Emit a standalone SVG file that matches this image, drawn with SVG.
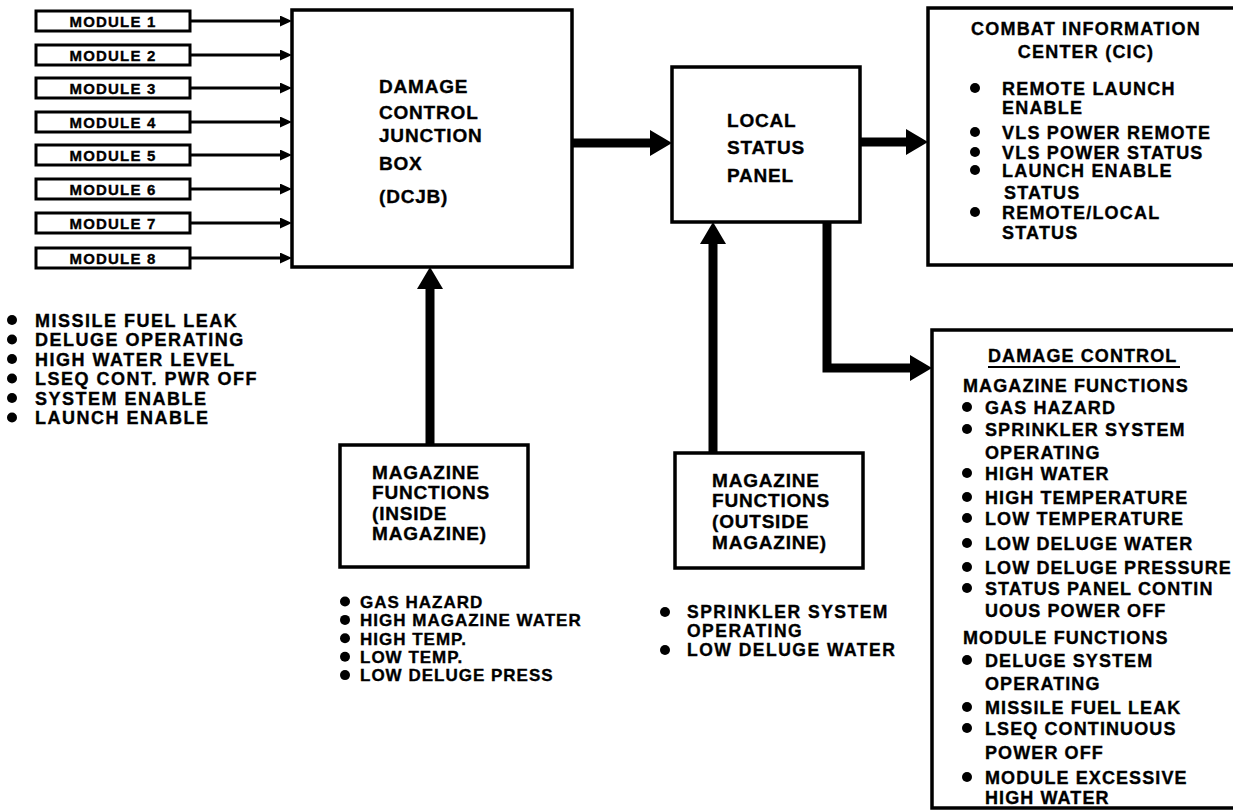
<svg xmlns="http://www.w3.org/2000/svg" width="1233" height="812" viewBox="0 0 1233 812">
<style>
  .box { fill: #fff; stroke: #000; stroke-width: 3.5; }
  .mbox { fill: #fff; stroke: #000; stroke-width: 3; }
  text { font-family: "Liberation Sans", Arial, sans-serif; font-weight: bold; fill: #000; stroke: #000; stroke-width: 0.35; }
  .mod { font-size: 15px; letter-spacing: 1.2px; text-anchor: middle; }
  .big { font-size: 19px; letter-spacing: 0.8px; }
  .lft { font-size: 18px; letter-spacing: 1.5px; }
  .ins { font-size: 17px; letter-spacing: 1px; }
  .out { font-size: 17.5px; letter-spacing: 1.5px; }
  .cic { font-size: 18px; letter-spacing: 1.2px; }
  .dc { font-size: 18px; letter-spacing: 1.1px; }
  .thin { fill: none; stroke: #000; stroke-width: 3; marker-end: url(#sa); }
  .thick { fill: none; stroke: #000; stroke-width: 9; stroke-linejoin: miter; marker-end: url(#ba); }
  .dot { fill: #000; }
</style>
<defs>
  <marker id="sa" markerUnits="userSpaceOnUse" viewBox="0 0 12 11" markerWidth="12" markerHeight="11" refX="1" refY="5.5" orient="auto">
    <path d="M0,0 L12,5.5 L0,11 z" fill="#000"/>
  </marker>
  <marker id="ba" markerUnits="userSpaceOnUse" viewBox="0 0 22 26" markerWidth="22" markerHeight="26" refX="2" refY="13" orient="auto">
    <path d="M0,0 L22,13 L0,26 z" fill="#000"/>
  </marker>
</defs>
<rect width="1233" height="812" fill="#fff"/>

<g id="connectors">
  <line class="thin" x1="190" y1="21" x2="281" y2="21"/>
  <line class="thin" x1="190" y1="55" x2="281" y2="55"/>
  <line class="thin" x1="190" y1="88" x2="281" y2="88"/>
  <line class="thin" x1="190" y1="122" x2="281" y2="122"/>
  <line class="thin" x1="190" y1="155" x2="281" y2="155"/>
  <line class="thin" x1="190" y1="189" x2="281" y2="189"/>
  <line class="thin" x1="190" y1="223" x2="281" y2="223"/>
  <line class="thin" x1="190" y1="258" x2="281" y2="258"/>
  <path class="thick" d="M572,143 H652"/>
  <path class="thick" d="M860,142 H908"/>
  <path class="thick" d="M827,222 V368 H912"/>
  <path class="thick" d="M430,445 V287"/>
  <path class="thick" d="M713,453 V242"/>
</g>

<g id="module1"><rect class="mbox" x="36" y="11" width="154" height="20"/><text class="mod" x="113" y="26.5">MODULE 1</text></g>
<g id="module2"><rect class="mbox" x="36" y="45" width="154" height="20"/><text class="mod" x="113" y="60.5">MODULE 2</text></g>
<g id="module3"><rect class="mbox" x="36" y="78" width="154" height="20"/><text class="mod" x="113" y="93.5">MODULE 3</text></g>
<g id="module4"><rect class="mbox" x="36" y="112" width="154" height="20"/><text class="mod" x="113" y="127.5">MODULE 4</text></g>
<g id="module5"><rect class="mbox" x="36" y="145" width="154" height="20"/><text class="mod" x="113" y="160.5">MODULE 5</text></g>
<g id="module6"><rect class="mbox" x="36" y="179" width="154" height="20"/><text class="mod" x="113" y="194.5">MODULE 6</text></g>
<g id="module7"><rect class="mbox" x="36" y="213" width="154" height="20"/><text class="mod" x="113" y="228.5">MODULE 7</text></g>
<g id="module8"><rect class="mbox" x="36" y="248" width="154" height="20"/><text class="mod" x="113" y="263.5">MODULE 8</text></g>

<g id="module-signals">
  <circle class="dot" cx="12" cy="320" r="5"/><text class="lft" x="35" y="326.5">MISSILE FUEL LEAK</text>
  <circle class="dot" cx="12" cy="339.5" r="5"/><text class="lft" x="35" y="346">DELUGE OPERATING</text>
  <circle class="dot" cx="12" cy="359" r="5"/><text class="lft" x="35" y="365.5">HIGH WATER LEVEL</text>
  <circle class="dot" cx="12" cy="378.5" r="5"/><text class="lft" x="35" y="385">LSEQ CONT. PWR OFF</text>
  <circle class="dot" cx="12" cy="398" r="5"/><text class="lft" x="35" y="404.5">SYSTEM ENABLE</text>
  <circle class="dot" cx="12" cy="417.5" r="5"/><text class="lft" x="35" y="424">LAUNCH ENABLE</text>
</g>

<g id="dcjb">
  <rect class="box" x="292" y="10" width="280" height="257"/>
  <text class="big" x="379" y="93">DAMAGE</text>
  <text class="big" x="379" y="119">CONTROL</text>
  <text class="big" x="379" y="142">JUNCTION</text>
  <text class="big" x="379" y="170">BOX</text>
  <text class="big" x="379" y="203">(DCJB)</text>
</g>

<g id="local-status-panel">
  <rect class="box" x="672" y="67" width="188" height="155"/>
  <text class="big" x="727" y="127">LOCAL</text>
  <text class="big" x="727" y="154">STATUS</text>
  <text class="big" x="727" y="182">PANEL</text>
</g>

<g id="cic">
  <rect class="box" x="928" y="8" width="330" height="257"/>
  <text class="cic" x="1086" y="35" text-anchor="middle">COMBAT INFORMATION</text>
  <text class="cic" x="1086" y="58" text-anchor="middle">CENTER (CIC)</text>
  <circle class="dot" cx="975" cy="88" r="5"/><text class="cic" x="1002" y="94.5">REMOTE LAUNCH</text>
  <text class="cic" x="1002" y="113.5">ENABLE</text>
  <circle class="dot" cx="975" cy="132" r="5"/><text class="cic" x="1002" y="138.5">VLS POWER REMOTE</text>
  <circle class="dot" cx="975" cy="152" r="5"/><text class="cic" x="1002" y="158.5">VLS POWER STATUS</text>
  <circle class="dot" cx="975" cy="170" r="5"/><text class="cic" x="1002" y="176.5">LAUNCH ENABLE</text>
  <text class="cic" x="1004" y="198.5">STATUS</text>
  <circle class="dot" cx="975" cy="212" r="5"/><text class="cic" x="1002" y="218.5">REMOTE/LOCAL</text>
  <text class="cic" x="1002" y="238.5">STATUS</text>
</g>

<g id="damage-control">
  <rect class="box" x="932" y="330" width="330" height="478"/>
  <text class="dc" x="988" y="361.5">DAMAGE CONTROL</text>
  <line x1="988" y1="367" x2="1180" y2="367" stroke="#000" stroke-width="2"/>
  <text class="dc" x="963" y="391.5">MAGAZINE FUNCTIONS</text>
  <circle class="dot" cx="967" cy="407" r="5"/><text class="dc" x="985" y="413.5">GAS HAZARD</text>
  <circle class="dot" cx="967" cy="429" r="5"/><text class="dc" x="985" y="435.5">SPRINKLER SYSTEM</text>
  <text class="dc" x="985" y="458.5">OPERATING</text>
  <circle class="dot" cx="967" cy="473" r="5"/><text class="dc" x="985" y="479.5">HIGH WATER</text>
  <circle class="dot" cx="967" cy="497" r="5"/><text class="dc" x="985" y="503.5">HIGH TEMPERATURE</text>
  <circle class="dot" cx="967" cy="518" r="5"/><text class="dc" x="985" y="524.5">LOW TEMPERATURE</text>
  <circle class="dot" cx="967" cy="543" r="5"/><text class="dc" x="985" y="549.5">LOW DELUGE WATER</text>
  <circle class="dot" cx="967" cy="567" r="5"/><text class="dc" x="985" y="573.5">LOW DELUGE PRESSURE</text>
  <circle class="dot" cx="967" cy="588" r="5"/><text class="dc" x="985" y="594.5">STATUS PANEL CONTIN</text>
  <text class="dc" x="985" y="616.5">UOUS POWER OFF</text>
  <text class="dc" x="963" y="643.5">MODULE FUNCTIONS</text>
  <circle class="dot" cx="967" cy="660" r="5"/><text class="dc" x="985" y="666.5">DELUGE SYSTEM</text>
  <text class="dc" x="985" y="689.5">OPERATING</text>
  <circle class="dot" cx="967" cy="707" r="5"/><text class="dc" x="985" y="713.5">MISSILE FUEL LEAK</text>
  <circle class="dot" cx="967" cy="728" r="5"/><text class="dc" x="985" y="734.5">LSEQ CONTINUOUS</text>
  <text class="dc" x="985" y="758.5">POWER OFF</text>
  <circle class="dot" cx="967" cy="777" r="5"/><text class="dc" x="985" y="783.5">MODULE EXCESSIVE</text>
  <text class="dc" x="985" y="803.5">HIGH WATER</text>
</g>

<g id="inside-magazine">
  <rect class="box" x="340" y="445" width="188" height="122"/>
  <text class="big" x="372" y="479">MAGAZINE</text>
  <text class="big" x="372" y="499">FUNCTIONS</text>
  <text class="big" x="372" y="520">(INSIDE</text>
  <text class="big" x="372" y="540">MAGAZINE)</text>
</g>

<g id="inside-signals">
  <circle class="dot" cx="345" cy="601.5" r="5"/><text class="ins" x="360" y="607.8">GAS HAZARD</text>
  <circle class="dot" cx="345" cy="619.9" r="5"/><text class="ins" x="360" y="626.2">HIGH MAGAZINE WATER</text>
  <circle class="dot" cx="345" cy="638.3" r="5"/><text class="ins" x="360" y="644.6">HIGH TEMP.</text>
  <circle class="dot" cx="345" cy="656.7" r="5"/><text class="ins" x="360" y="663">LOW TEMP.</text>
  <circle class="dot" cx="345" cy="675.1" r="5"/><text class="ins" x="360" y="681.4">LOW DELUGE PRESS</text>
</g>

<g id="outside-magazine">
  <rect class="box" x="675" y="453" width="188" height="115"/>
  <text class="big" x="712" y="487">MAGAZINE</text>
  <text class="big" x="712" y="507">FUNCTIONS</text>
  <text class="big" x="712" y="528">(OUTSIDE</text>
  <text class="big" x="712" y="549">MAGAZINE)</text>
</g>

<g id="outside-signals">
  <circle class="dot" cx="665" cy="612" r="5"/><text class="out" x="687" y="618.3">SPRINKLER SYSTEM</text>
  <text class="out" x="687" y="637.3">OPERATING</text>
  <circle class="dot" cx="665" cy="650" r="5"/><text class="out" x="687" y="656.3">LOW DELUGE WATER</text>
</g>
</svg>
